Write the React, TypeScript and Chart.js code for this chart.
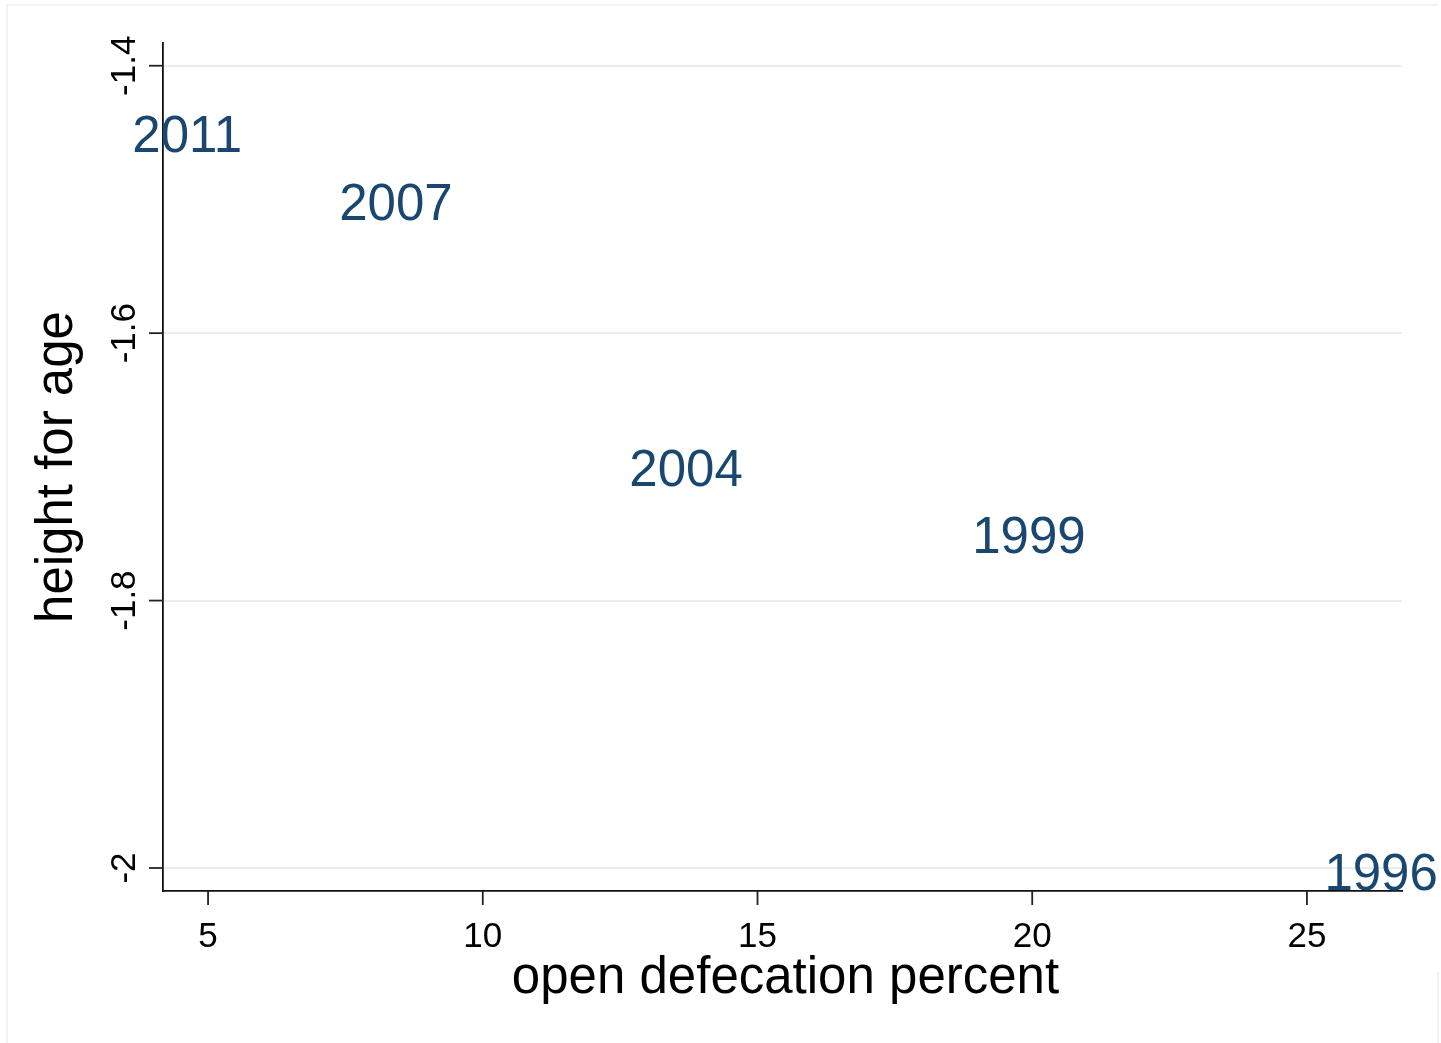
import React, { useEffect, useRef } from "react";
import { Chart, registerables } from "chart.js";

Chart.register(...registerables);

const yearLabels = ["2011", "2007", "2004", "1999", "1996"];
const openDefecation = [4.62, 8.42, 13.7, 19.94, 26.35];
const heightForAge = [-1.451, -1.502, -1.701, -1.751, -2.003];

const xTicks = [5, 10, 15, 20, 25];
const xTickLabels = ["5", "10", "15", "20", "25"];
const yTicks = [-1.4, -1.6, -1.8, -2];
const yTickLabels = ["-1.4", "-1.6", "-1.8", "-2"];

const xRange = [4.18, 26.73];
const yRange = [-2.0172, -1.383];

const xTitle = "open defecation percent";
const yTitle = "height for age";

const FONT = "'Liberation Sans', Arial, Helvetica, sans-serif";
const LABEL_COLOR = "#1a476f";

const decorPlugin = {
  id: "stataDecor",
  beforeDraw(chart: any) {
    const ctx = chart.ctx;
    ctx.save();
    ctx.fillStyle = "#ffffff";
    ctx.fillRect(0, 0, chart.width, chart.height);
    ctx.strokeStyle = "#e9eff1";
    ctx.lineWidth = 1.5;
    ctx.beginPath();
    ctx.moveTo(7, chart.height);
    ctx.lineTo(7, 5);
    ctx.lineTo(1438, 5);
    ctx.stroke();
    ctx.beginPath();
    ctx.moveTo(1438, 972);
    ctx.lineTo(1438, chart.height);
    ctx.stroke();
    ctx.restore();
  },
  afterDraw(chart: any) {
    const ctx = chart.ctx;
    const xs = chart.scales.x;
    const ys = chart.scales.y;
    const area = chart.chartArea;
    ctx.save();
    ctx.strokeStyle = "#222222";
    ctx.lineWidth = 1.8;
    yTicks.forEach((v) => {
      const py = ys.getPixelForValue(v);
      ctx.beginPath();
      ctx.moveTo(area.left - 14, py);
      ctx.lineTo(area.left, py);
      ctx.stroke();
    });
    xTicks.forEach((v) => {
      const px = xs.getPixelForValue(v);
      ctx.beginPath();
      ctx.moveTo(px, area.bottom);
      ctx.lineTo(px, area.bottom + 14);
      ctx.stroke();
    });
    ctx.fillStyle = "#000000";
    ctx.font = `35px ${FONT}`;
    ctx.textAlign = "center";
    ctx.textBaseline = "alphabetic";
    xTicks.forEach((v, i) => {
      const px = xs.getPixelForValue(v);
      ctx.fillText(xTickLabels[i], px, area.bottom + 56);
    });
    yTicks.forEach((v, i) => {
      const py = ys.getPixelForValue(v);
      ctx.save();
      ctx.translate(area.left - 28, py);
      ctx.rotate(-Math.PI / 2);
      ctx.fillText(yTickLabels[i], 0, 0);
      ctx.restore();
    });
    ctx.font = `51px ${FONT}`;
    ctx.fillText(xTitle, (area.left + area.right) / 2 + 3, area.bottom + 102);
    ctx.save();
    ctx.translate(72, (area.top + area.bottom) / 2);
    ctx.rotate(-Math.PI / 2);
    ctx.fillText(yTitle, 0, 0);
    ctx.restore();
    ctx.fillStyle = LABEL_COLOR;
    ctx.font = `51px ${FONT}`;
    const meta = chart.getDatasetMeta(0);
    meta.data.forEach((pt: any, i: number) => {
      ctx.fillText(yearLabels[i], pt.x, pt.y + 18);
    });
    ctx.restore();
  },
};

export default function App() {
  const ref = useRef<HTMLCanvasElement | null>(null);
  useEffect(() => {
    if (!ref.current) return;
    const chart = new Chart(ref.current, {
      type: "scatter",
      data: {
        datasets: [
          {
            label: "height for age",
            data: openDefecation.map((x, i) => ({ x, y: heightForAge[i] })),
            pointRadius: 0,
            pointHoverRadius: 0,
            showLine: false,
          },
        ],
      },
      options: {
        responsive: false,
        animation: false,
        events: [],
        layout: { padding: { left: 163, right: 39, top: 43, bottom: 152 } },
        plugins: {
          legend: { display: false },
          tooltip: { enabled: false },
          title: { display: false },
        },
        scales: {
          x: {
            type: "linear",
            min: xRange[0],
            max: xRange[1],
            afterBuildTicks: (s: any) => {
              s.ticks = xTicks.map((v) => ({ value: v }));
            },
            ticks: { display: false },
            grid: { display: false, drawTicks: false, tickLength: 0 },
            border: { display: true, color: "#111111", width: 1.8 },
            title: { display: false },
          },
          y: {
            type: "linear",
            min: yRange[0],
            max: yRange[1],
            afterBuildTicks: (s: any) => {
              s.ticks = yTicks.map((v) => ({ value: v }));
            },
            ticks: { display: false },
            grid: {
              display: true,
              drawTicks: false,
              tickLength: 0,
              color: "#e6eef0",
              lineWidth: 2,
            },
            border: { display: true, color: "#111111", width: 1.8 },
            title: { display: false },
          },
        },
      },
      plugins: [decorPlugin],
    });
    return () => chart.destroy();
  }, []);
  return (
    <div
      style={{
        position: "fixed",
        left: 0,
        top: 0,
        width: 1441,
        height: 1043,
        background: "#ffffff",
        overflow: "hidden",
      }}
    >
      <canvas ref={ref} width={1441} height={1043} style={{ width: 1441, height: 1043, display: "block" }} />
    </div>
  );
}
